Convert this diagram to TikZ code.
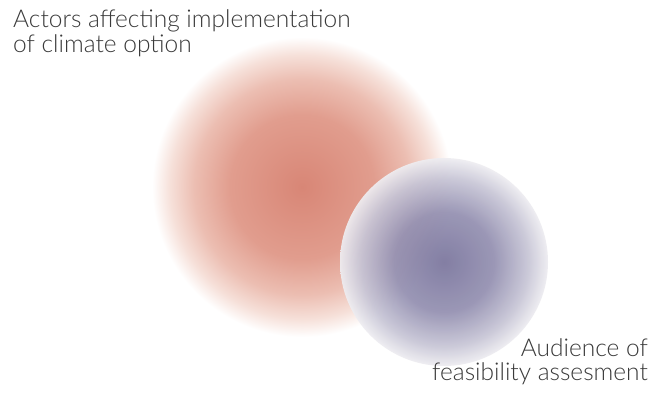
\documentclass[tikz,border=0pt]{standalone}
\usepackage{fontspec}
\setmainfont{Lato}[UprightFont={* Light}]
\definecolor{inkgray}{RGB}{58,58,58}
\definecolor{redcore}{RGB}{216,134,118}
\definecolor{redmid}{RGB}{225,157,142}
\definecolor{redout}{RGB}{236,190,178}
\definecolor{redrim}{RGB}{246,224,217}
\definecolor{bluecore}{RGB}{122,117,157}
\definecolor{bluemid}{RGB}{148,144,177}
\definecolor{blueout}{RGB}{198,196,213}
\definecolor{bluerim}{RGB}{238,237,241}
% the rim of a shaded circle sits at 25bp from its centre
\pgfdeclareradialshading{redball}{\pgfpoint{0bp}{0bp}}{%
  color(0bp)=(redcore); color(12bp)=(redmid); color(18bp)=(redout);
  color(22bp)=(redrim); color(25bp)=(white); color(50bp)=(white)}
\pgfdeclareradialshading{blueball}{\pgfpoint{0bp}{0bp}}{%
  color(0bp)=(bluecore); color(12bp)=(bluemid); color(20bp)=(blueout);
  color(25bp)=(bluerim); color(50bp)=(bluerim)}
\tikzset{
  label/.style={font=\fontsize{24.5}{25}\selectfont, text=inkgray, inner sep=0pt},
}
\begin{document}
\begin{tikzpicture}[x=1pt,y=1pt]
  \useasboundingbox[fill=white] (0,0) rectangle (652,395);
  % larger sphere: actors
  \path[shading=redball] (302,208) circle[radius=150];
  % smaller sphere: audience
  \path[shading=blueball, opacity=0.93] (444,133) circle[radius=104];
  % captions
  \node[label, anchor=base west] (actors1) at (13,367) {Actors affecting implementation};
  \node[label, anchor=base west] (actors2) at (13,342) {of climate option};
  \node[label, anchor=base east] (aud1) at (648,38) {Audience of};
  \node[label, anchor=base east] (aud2) at (648,14) {feasibility assesment};
\end{tikzpicture}
\end{document}
